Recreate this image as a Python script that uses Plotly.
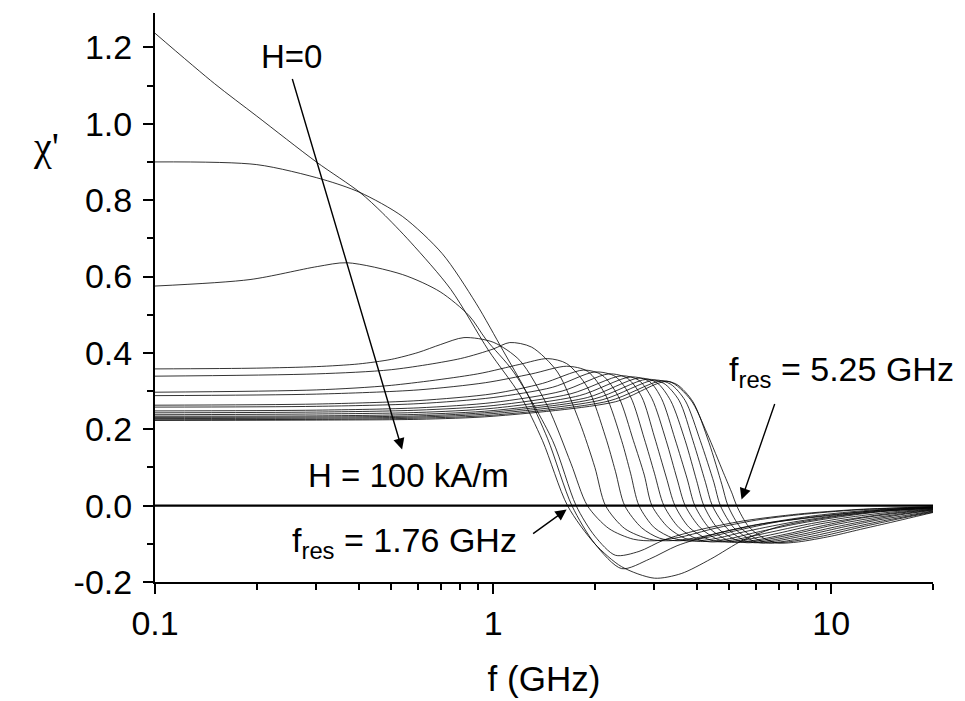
import math
import plotly.graph_objects as go

# ---------------- data ----------------
# Three low-field curves (large susceptibility)
FA = [0.1, 0.15, 0.2, 0.3, 0.404, 0.47, 0.57, 0.75, 0.97, 1.2, 1.4, 1.66, 2.0, 2.4, 3.0, 3.6, 4.4, 5.5, 7, 10, 14, 20]
XA = [1.237, 1.105, 1.02, 0.90, 0.82, 0.767, 0.69, 0.566, 0.406, 0.29, 0.17, 0.0, -0.10, -0.16, -0.19, -0.178, -0.14, -0.09, -0.055, -0.03, -0.015, -0.006]

FB = [0.1, 0.2, 0.314, 0.404, 0.54, 0.707, 0.89, 1.07, 1.25, 1.45, 1.71, 2.0, 2.4, 2.9, 3.5, 4.5, 6, 9, 14, 20]
XB = [0.90, 0.893, 0.854, 0.82, 0.757, 0.66, 0.53, 0.406, 0.30, 0.175, 0.0, -0.10, -0.165, -0.14, -0.105, -0.075, -0.05, -0.03, -0.012, -0.004]

FC = [0.1, 0.191, 0.302, 0.37, 0.54, 0.697, 0.85, 0.953, 1.15, 1.5, 1.76, 2.0, 2.3, 2.7, 3.2, 4, 5.5, 8, 12, 20]
XC = [0.575, 0.592, 0.626, 0.636, 0.605, 0.56, 0.497, 0.435, 0.35, 0.17, 0.0, -0.08, -0.13, -0.12, -0.09, -0.065, -0.04, -0.022, -0.01, -0.003]

# Higher-field curves L1 ... L14
F1 = [0.1, 0.2, 0.3, 0.4, 0.5, 0.6, 0.7, 0.82, 1.0, 1.2, 1.45, 1.7, 1.9, 2.2, 2.6, 3.0, 3.6, 4.5, 6, 8, 12, 20]
X1 = [0.358, 0.36, 0.364, 0.371, 0.383, 0.401, 0.422, 0.44, 0.428, 0.38, 0.26, 0.11, 0.0, -0.06, -0.088, -0.092, -0.082, -0.06, -0.038, -0.024, -0.011, -0.003]
F2 = [0.1, 0.3, 0.5, 0.8, 1.0, 1.12, 1.3, 1.55, 1.8, 2.0, 2.15, 2.45, 2.9, 3.3, 4, 5, 6.5, 9, 13, 20]
X2 = [0.339, 0.345, 0.356, 0.385, 0.41, 0.427, 0.415, 0.35, 0.22, 0.10, 0.0, -0.06, -0.088, -0.092, -0.084, -0.065, -0.045, -0.026, -0.012, -0.004]
F3 = [0.1, 0.3, 0.5, 0.9, 1.2, 1.45, 1.65, 1.9, 2.15, 2.3, 2.45, 2.75, 3.1, 3.5, 4.2, 5.2, 7, 10, 14, 20]
X3 = [0.297, 0.303, 0.315, 0.345, 0.37, 0.385, 0.372, 0.31, 0.18, 0.09, 0.0, -0.058, -0.085, -0.092, -0.085, -0.066, -0.042, -0.024, -0.012, -0.005]
F4 = [0.1, 0.3, 0.6, 0.95, 1.3, 1.65, 1.9, 2.15, 2.4, 2.55, 2.7, 3.0, 3.4, 3.8, 4.5, 5.5, 7.5, 10, 14, 20]
X4 = [0.288, 0.292, 0.303, 0.322, 0.345, 0.365, 0.352, 0.29, 0.17, 0.085, 0.0, -0.058, -0.085, -0.093, -0.087, -0.069, -0.045, -0.028, -0.014, -0.006]
F5 = [0.1, 0.3, 0.6, 1.0, 1.4, 1.85, 2.1, 2.35, 2.6, 2.8, 2.95, 3.3, 3.7, 4.1, 4.9, 6, 8, 10.5, 14, 20]
X5 = [0.263, 0.266, 0.275, 0.293, 0.32, 0.355, 0.342, 0.285, 0.17, 0.08, 0.0, -0.058, -0.086, -0.094, -0.088, -0.07, -0.047, -0.03, -0.016, -0.007]
F6 = [0.1, 0.3, 0.6, 1.0, 1.5, 2.0, 2.3, 2.55, 2.8, 3.0, 3.2, 3.55, 4.0, 4.4, 5.2, 6.5, 8.5, 11, 15, 20]
X6 = [0.258, 0.26, 0.267, 0.283, 0.31, 0.35, 0.338, 0.285, 0.175, 0.085, 0.0, -0.058, -0.087, -0.095, -0.089, -0.071, -0.049, -0.032, -0.017, -0.008]
F7 = [0.1, 0.3, 0.6, 1.0, 1.6, 2.2, 2.5, 2.75, 3.0, 3.25, 3.45, 3.8, 4.3, 4.7, 5.5, 7, 9, 12, 15, 20]
X7 = [0.248, 0.25, 0.256, 0.27, 0.30, 0.345, 0.333, 0.285, 0.18, 0.075, 0.0, -0.057, -0.087, -0.095, -0.09, -0.072, -0.05, -0.032, -0.02, -0.009]
F8 = [0.1, 0.3, 0.6, 1.0, 1.7, 2.4, 2.7, 2.95, 3.25, 3.5, 3.7, 4.1, 4.6, 5.0, 5.9, 7.5, 9.5, 12, 15, 20]
X8 = [0.243, 0.245, 0.25, 0.262, 0.293, 0.34, 0.328, 0.28, 0.17, 0.07, 0.0, -0.058, -0.088, -0.096, -0.091, -0.073, -0.052, -0.034, -0.022, -0.01]
F9 = [0.1, 0.3, 0.6, 1.0, 1.8, 2.55, 2.9, 3.15, 3.45, 3.75, 3.95, 4.35, 4.9, 5.3, 6.2, 7.8, 10, 12.5, 16, 20]
X9 = [0.238, 0.24, 0.244, 0.255, 0.288, 0.337, 0.325, 0.28, 0.175, 0.07, 0.0, -0.058, -0.089, -0.096, -0.091, -0.074, -0.052, -0.036, -0.022, -0.011]
F10 = [0.1, 0.3, 0.6, 1.0, 1.9, 2.7, 3.05, 3.35, 3.7, 4.0, 4.2, 4.6, 5.2, 5.6, 6.5, 8.2, 10.5, 13, 16, 20]
X10 = [0.234, 0.235, 0.239, 0.249, 0.283, 0.334, 0.322, 0.275, 0.17, 0.065, 0.0, -0.058, -0.089, -0.097, -0.092, -0.075, -0.054, -0.038, -0.024, -0.012]
F11 = [0.1, 0.3, 0.6, 1.0, 2.0, 2.85, 3.2, 3.55, 3.9, 4.25, 4.45, 4.9, 5.5, 5.9, 6.8, 8.5, 11, 13.5, 16.5, 20]
X11 = [0.231, 0.232, 0.235, 0.245, 0.28, 0.331, 0.32, 0.275, 0.17, 0.06, 0.0, -0.058, -0.09, -0.097, -0.093, -0.077, -0.055, -0.039, -0.026, -0.014]
F12 = [0.1, 0.3, 0.6, 1.0, 2.1, 3.0, 3.35, 3.7, 4.1, 4.5, 4.7, 5.15, 5.8, 6.2, 7.2, 9, 11.5, 14, 17, 20]
X12 = [0.228, 0.229, 0.232, 0.241, 0.277, 0.329, 0.318, 0.275, 0.17, 0.06, 0.0, -0.058, -0.09, -0.098, -0.094, -0.078, -0.057, -0.041, -0.027, -0.015]
F13 = [0.1, 0.3, 0.6, 1.0, 2.2, 3.15, 3.5, 3.9, 4.35, 4.75, 4.95, 5.4, 6.1, 6.6, 7.6, 9.5, 12, 14.5, 17, 20]
X13 = [0.225, 0.226, 0.229, 0.237, 0.274, 0.327, 0.317, 0.272, 0.165, 0.055, 0.0, -0.058, -0.09, -0.098, -0.094, -0.079, -0.058, -0.042, -0.029, -0.017]
F14 = [0.1, 0.3, 0.6, 1.0, 2.3, 3.3, 3.84, 4.29, 4.8, 5.1, 5.25, 5.7, 6.4, 7.0, 8.0, 10, 12.5, 15, 17.5, 20]
X14 = [0.223, 0.224, 0.226, 0.234, 0.272, 0.325, 0.277, 0.19, 0.086, 0.03, 0.0, -0.055, -0.088, -0.098, -0.095, -0.08, -0.06, -0.044, -0.03, -0.018]

ZERO_F = [0.1, 20]
ZERO_X = [0.0, 0.0]

X_TICKS = [0.1, 1, 10]
X_TICKTEXT = ["0.1", "1", "10"]
X_MINOR = [0.2, 0.3, 0.4, 0.5, 0.6, 0.7, 0.8, 0.9, 2, 3, 4, 5, 6, 7, 8, 9, 20]
Y_TICKS = [-0.2, 0.0, 0.2, 0.4, 0.6, 0.8, 1.0, 1.2]
Y_TICKTEXT = ["-0.2", "0.0", "0.2", "0.4", "0.6", "0.8", "1.0", "1.2"]
Y_MINOR = [-0.1, 0.1, 0.3, 0.5, 0.7, 0.9, 1.1]

curves = [(FA, XA), (FB, XB), (FC, XC), (F1, X1), (F2, X2), (F3, X3), (F4, X4), (F5, X5),
          (F6, X6), (F7, X7), (F8, X8), (F9, X9), (F10, X10), (F11, X11), (F12, X12),
          (F13, X13), (F14, X14)]

FONT = "Liberation Sans, Arial, sans-serif"

fig = go.Figure()
for fx, cx in curves:
    fig.add_trace(go.Scatter(x=fx, y=cx, mode="lines",
                             line=dict(color="black", width=0.8, shape="spline", smoothing=0.8),
                             showlegend=False, hoverinfo="skip"))
fig.add_trace(go.Scatter(x=ZERO_F, y=ZERO_X, mode="lines",
                         line=dict(color="black", width=2.2), showlegend=False, hoverinfo="skip"))

L = math.log10
F33 = dict(family=FONT, size=33, color="black")
F34 = dict(family=FONT, size=34, color="black")
ann = [
    dict(x=L(0.254), y=1.176, text="H=0", showarrow=False, font=F33),
    dict(x=L(0.561), y=0.079, text="H = 100 kA/m", showarrow=False, font=F33),
    dict(x=L(0.548), y=-0.097, text="f<sub>res</sub> = 1.76 GHz", showarrow=False, font=F34),
    dict(x=L(10.7), y=0.351, text="f<sub>res</sub> = 5.25 GHz", showarrow=False, font=F34),
    # arrows
    dict(x=L(0.538), y=0.147, ax=L(0.254), ay=1.121, axref="x", ayref="y", text="",
         showarrow=True, arrowhead=2, arrowsize=1.6, arrowwidth=1.4, arrowcolor="black"),
    dict(x=L(1.65), y=-0.01, ax=L(1.30), ay=-0.076, axref="x", ayref="y", text="",
         showarrow=True, arrowhead=2, arrowsize=1.6, arrowwidth=1.4, arrowcolor="black"),
    dict(x=L(5.43), y=0.016, ax=L(6.83), ay=0.27, axref="x", ayref="y", text="",
         showarrow=True, arrowhead=2, arrowsize=1.6, arrowwidth=1.4, arrowcolor="black"),
    dict(x=-0.16, y=0.808, xref="paper", yref="paper", text="χ'", showarrow=False,
         font=dict(family="Liberation Serif, serif", size=40, color="black")),
]
for a in ann:
    a.setdefault("xref", "x")
    a.setdefault("yref", "y")
    a.setdefault("font", F33)

# page body adds an 8 px offset, so margins are reduced by 8 on the left/top
fig.update_layout(
    width=965, height=701,
    margin=dict(l=147, r=40, t=5, b=127),
    paper_bgcolor="white", plot_bgcolor="white",
    font=dict(family=FONT, size=32, color="black"),
    annotations=ann,
    xaxis=dict(type="log", range=[-1, L(20)], showgrid=False, zeroline=False, automargin=False,
               showline=True, linewidth=2, linecolor="black",
               ticks="outside", ticklen=10, tickwidth=2, tickcolor="black",
               tickmode="array", tickvals=X_TICKS, ticktext=X_TICKTEXT,
               tickfont=dict(size=34),
               minor=dict(tickmode="array", tickvals=X_MINOR, ticks="outside",
                          ticklen=6, tickwidth=1.5, tickcolor="black", showgrid=False),
               title=dict(text="f (GHz)", font=dict(size=35), standoff=26)),
    yaxis=dict(range=[-0.2, 1.29], showgrid=False, zeroline=False, automargin=False,
               showline=True, linewidth=2, linecolor="black",
               ticks="outside", ticklen=10, tickwidth=2, tickcolor="black",
               tickmode="array", tickvals=Y_TICKS, ticktext=Y_TICKTEXT,
               tickfont=dict(size=34), ticklabelstandoff=4,
               minor=dict(tickmode="array", tickvals=Y_MINOR, ticks="outside",
                          ticklen=6, tickwidth=1.5, tickcolor="black", showgrid=False)),
)

fig.write_html("out.html")
